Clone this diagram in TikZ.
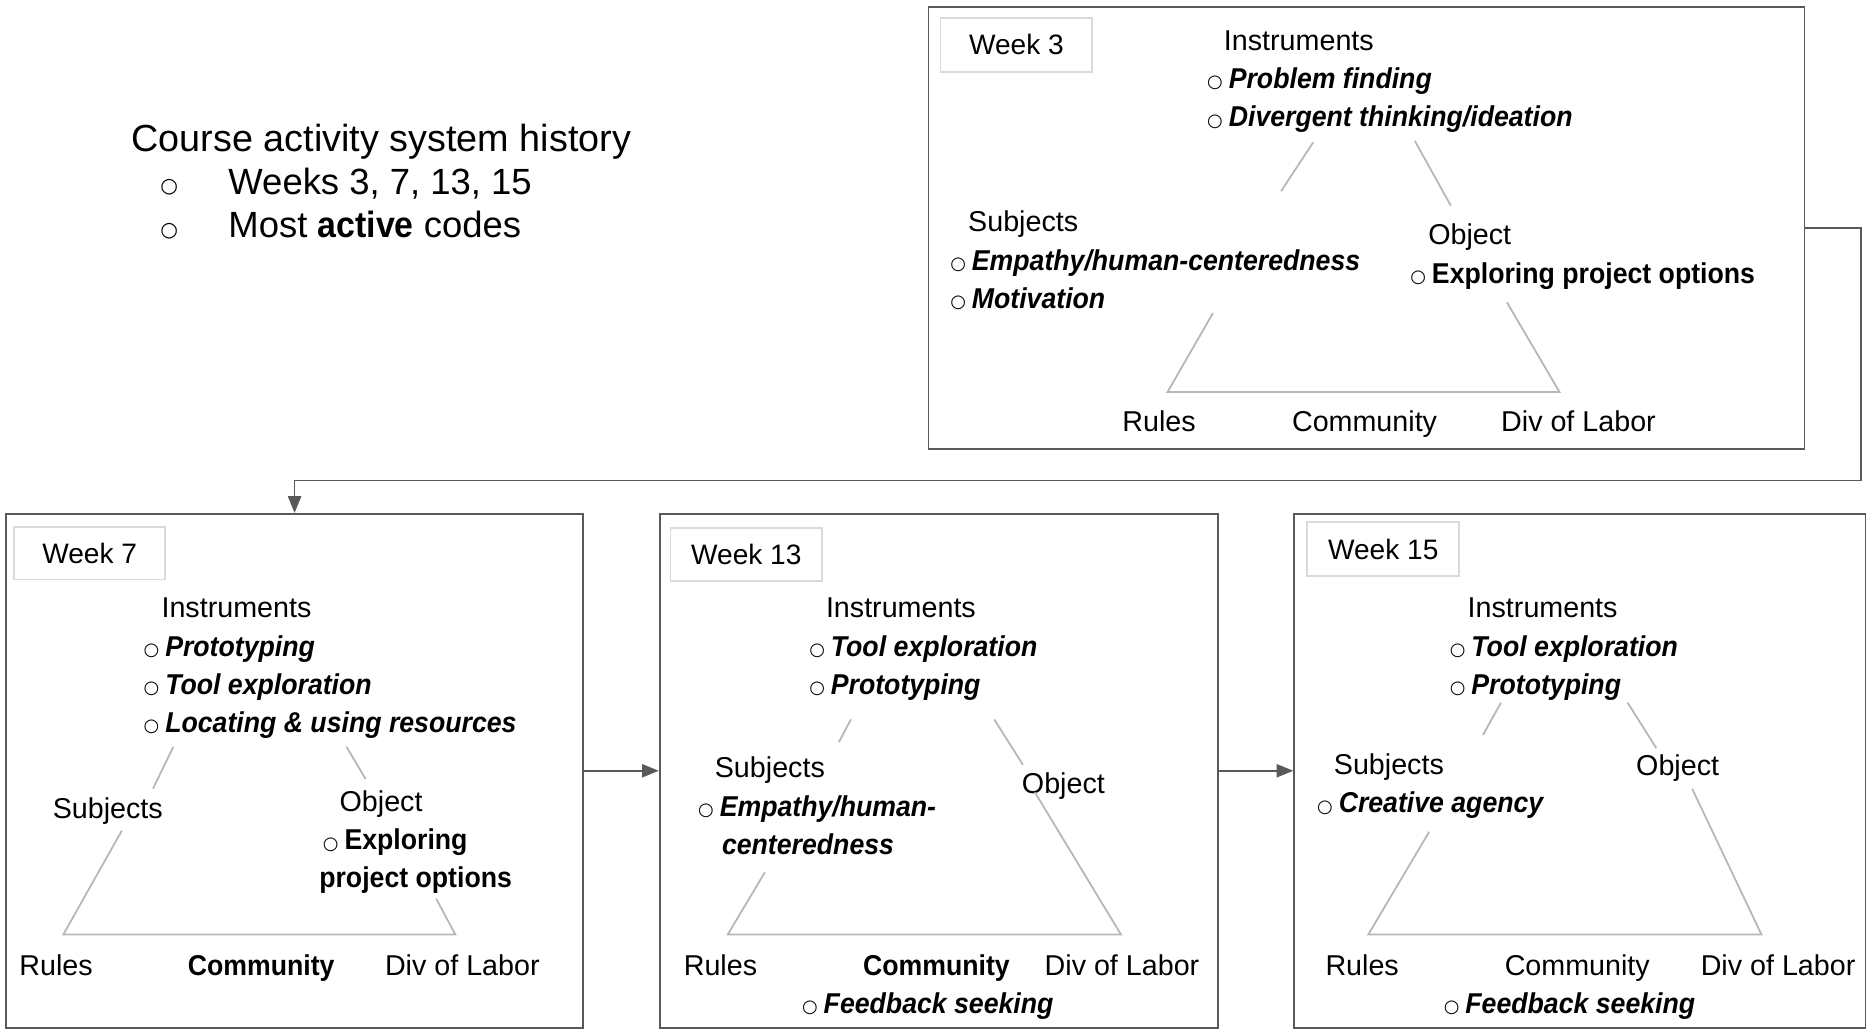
\documentclass[tikz,border=0pt]{standalone}
\usepackage{fontspec}
\setmainfont{Liberation Sans}[BoldFeatures={FakeStretch=0.93},BoldItalicFeatures={FakeStretch=0.93}]
\newfontfamily\symfont{DejaVu Sans}
\usetikzlibrary{arrows.meta}
\definecolor{boxgray}{HTML}{595959}
\definecolor{lblgray}{HTML}{D9D9D9}
\definecolor{trigray}{HTML}{B7B7B7}
\newcommand{\bul}{{\symfont\fontsize{15}{15}\selectfont\raisebox{0.5pt}{○}}\hspace{5pt}}
\newcommand{\bigbul}{{\symfont\fontsize{17}{17}\selectfont\raisebox{1.5pt}{○}}}
\newcommand{\bi}[1]{\textbf{\textit{#1}}}
\tikzset{
  outerbox/.style={draw=boxgray, line width=1.5pt, inner sep=0pt},
  lblbox/.style={draw=lblgray, line width=1.5pt, inner sep=0pt, minimum width=127pt, minimum height=45pt, font=\fontsize{23.5}{28}\selectfont},
  tri/.style={draw=trigray, line width=1.5pt},
  conn/.style={draw=boxgray, line width=1.5pt, -{Triangle[length=14pt,width=11pt]}},
  txt/.style={anchor=base west, inner sep=0pt, font=\fontsize{24}{32}\selectfont},
  ttl/.style={anchor=base west, inner sep=0pt, font=\fontsize{31.6}{36}\selectfont},
  ttlb/.style={anchor=base west, inner sep=0pt, font=\fontsize{30.5}{36}\selectfont},
}
\begin{document}
\begin{tikzpicture}[x=1pt,y=-1pt]
\useasboundingbox (0,0) rectangle (1564,864);

% Title
\node[ttl] (title) at (110,127) {Course activity system history};
\node[ttlb] (tb1) at (134,163) {\bigbul};
\node[ttlb] (tt1) at (191,163) {Weeks 3, 7, 13, 15};
\node[ttlb] (tb2) at (134,199) {\bigbul};
\node[ttlb] (tt2) at (191,199) {Most \textbf{active} codes};

% ---------------- Week 3
\node[outerbox, minimum width=733pt, minimum height=370pt] (w3) at (1143.5,191) {};
\node[lblbox] (l3) at (850.5,37.5) {Week 3};
\node[txt] (i3) at (1024,42) {Instruments};
\node[txt] (i3a) at (1010,74) {\bul\bi{Problem finding}};
\node[txt] (i3b) at (1010,106) {\bul\bi{Divergent thinking/ideation}};
\node[txt] (s3) at (810,194) {Subjects};
\node[txt] (s3a) at (795,226) {\bul\bi{Empathy/human-centeredness}};
\node[txt] (s3b) at (795,258) {\bul\bi{Motivation}};
\node[txt] (o3) at (1195,205) {Object};
\node[txt] (o3a) at (1180,237) {\bul\textbf{Exploring project options}};
\node[txt] (r3) at (939,361) {Rules};
\node[txt] (c3) at (1081,361) {Community};
\node[txt] (d3) at (1256,361) {Div of Labor};
\coordinate (t3a) at (1099,119); \coordinate (t3b) at (1072,160);
\coordinate (t3c) at (1184,118); \coordinate (t3d) at (1214,172);
\coordinate (t3e) at (1015,262); \coordinate (t3f) at (977,328);
\coordinate (t3g) at (1305,328); \coordinate (t3h) at (1261,253);
\draw[tri] (t3a) -- (t3b);
\draw[tri] (t3c) -- (t3d);
\draw[tri] (t3e) -- (t3f) -- (t3g) -- (t3h);

% ---------------- Week 7
\node[outerbox, minimum width=483pt, minimum height=430pt] (w7) at (246.5,645) {};
\node[lblbox, minimum width=126pt, minimum height=44pt] (l7) at (75,463) {Week 7};
\node[txt] (i7) at (135,517) {Instruments};
\node[txt] (i7a) at (120,549) {\bul\bi{Prototyping}};
\node[txt] (i7b) at (120,581) {\bul\bi{Tool exploration}};
\node[txt] (i7c) at (120,613) {\bul\bi{Locating \& using resources}};
\node[txt] (s7) at (44,685) {Subjects};
\node[txt] (o7) at (284,679) {Object};
\node[txt] (o7a) at (270,711) {\bul\textbf{Exploring}};
\node[txt] (o7b) at (267,743) {\textbf{project options}};
\node[txt] (r7) at (16,816) {Rules};
\node[txt] (c7) at (157,816) {\textbf{Community}};
\node[txt] (d7) at (322,816) {Div of Labor};
\coordinate (t7a) at (145,625); \coordinate (t7b) at (128,660);
\coordinate (t7c) at (290,625); \coordinate (t7d) at (306,652);
\coordinate (t7e) at (102,695); \coordinate (t7f) at (53,782);
\coordinate (t7g) at (381,782); \coordinate (t7h) at (365,752);
\draw[tri] (t7a) -- (t7b);
\draw[tri] (t7c) -- (t7d);
\draw[tri] (t7e) -- (t7f) -- (t7g) -- (t7h);

% ---------------- Week 13
\node[outerbox, minimum width=467pt, minimum height=430pt] (w13) at (785.5,645) {};
\node[lblbox, minimum height=44pt] (l13) at (624.5,464) {Week 13};
\node[txt] (i13) at (691,517) {Instruments};
\node[txt] (i13a) at (677,549) {\bul\bi{Tool exploration}};
\node[txt] (i13b) at (677,581) {\bul\bi{Prototyping}};
\node[txt] (s13) at (598,651) {Subjects};
\node[txt] (s13a) at (584,683) {\bul\bi{Empathy/human-}};
\node[txt] (s13b) at (604,715) {\bi{centeredness}};
\node[txt] (o13) at (855,664) {Object};
\node[txt] (r13) at (572,816) {Rules};
\node[txt] (c13) at (722,816) {\textbf{Community}};
\node[txt] (d13) at (874,816) {Div of Labor};
\node[txt] (f13) at (671,848) {\bul\bi{Feedback seeking}};
\coordinate (t13a) at (712,602); \coordinate (t13b) at (702,621);
\coordinate (t13c) at (832,602); \coordinate (t13d) at (856,640);
\coordinate (t13e) at (640,730); \coordinate (t13f) at (609,782);
\coordinate (t13g) at (938,782); \coordinate (t13h) at (866,663);
\draw[tri] (t13a) -- (t13b);
\draw[tri] (t13c) -- (t13d);
\draw[tri] (t13e) -- (t13f) -- (t13g) -- (t13h);

% ---------------- Week 15
\node[outerbox, minimum width=478pt, minimum height=430pt] (w15) at (1322,645) {};
\node[lblbox] (l15) at (1157.5,459.5) {Week 15};
\node[txt] (i15) at (1228,517) {Instruments};
\node[txt] (i15a) at (1213,549) {\bul\bi{Tool exploration}};
\node[txt] (i15b) at (1213,581) {\bul\bi{Prototyping}};
\node[txt] (s15) at (1116,648) {Subjects};
\node[txt] (s15a) at (1102,680) {\bul\bi{Creative agency}};
\node[txt] (o15) at (1369,649) {Object};
\node[txt] (r15) at (1109,816) {Rules};
\node[txt] (c15) at (1259,816) {Community};
\node[txt] (d15) at (1423,816) {Div of Labor};
\node[txt] (f15) at (1208,848) {\bul\bi{Feedback seeking}};
\coordinate (t15a) at (1256,588); \coordinate (t15b) at (1241,615);
\coordinate (t15c) at (1362,588); \coordinate (t15d) at (1386,626);
\coordinate (t15e) at (1196,696); \coordinate (t15f) at (1145,782);
\coordinate (t15g) at (1474,782); \coordinate (t15h) at (1416,660);
\draw[tri] (t15a) -- (t15b);
\draw[tri] (t15c) -- (t15d);
\draw[tri] (t15e) -- (t15f) -- (t15g) -- (t15h);

% ---------------- connectors
\coordinate (bend) at (1557,402);
\draw[conn] (w3.east) -| (bend) -| (w7.north);
\draw[conn] (w7.east) -- (w13.west);
\draw[conn] (w13.east) -- (w15.west);
\end{tikzpicture}
\end{document}
